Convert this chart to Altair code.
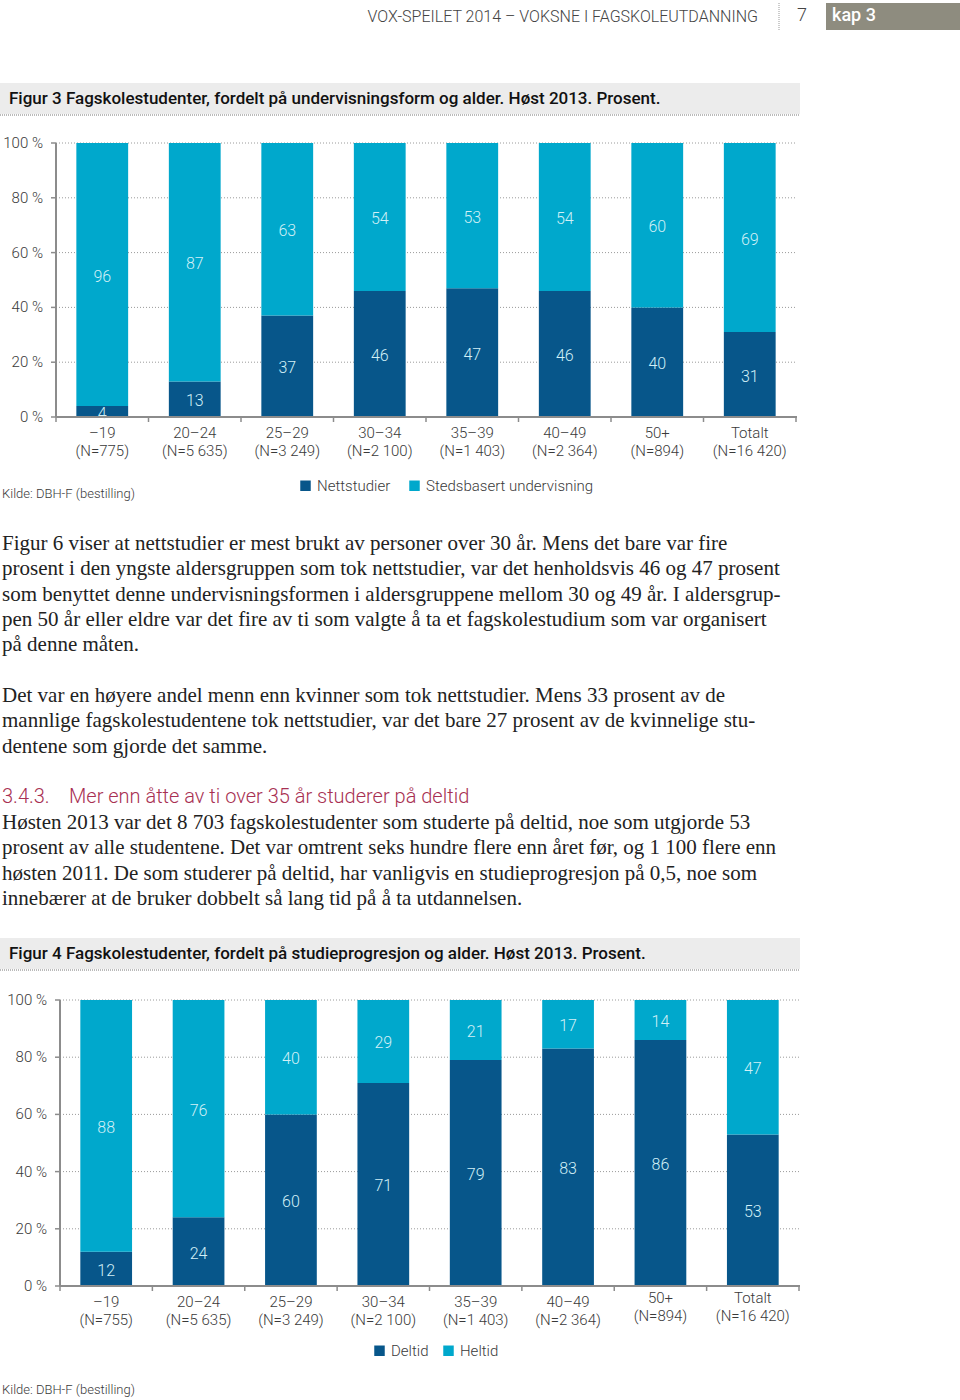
import altair as alt
import pandas as pd

# ---------------- data ----------------
ages = ["–19", "20–24", "25–29", "30–34", "35–39", "40–49", "50+", "Totalt"]
n_fig3 = ["(N=775)", "(N=5 635)", "(N=3 249)", "(N=2 100)", "(N=1 403)", "(N=2 364)", "(N=894)", "(N=16 420)"]
n_fig4 = ["(N=755)", "(N=5 635)", "(N=3 249)", "(N=2 100)", "(N=1 403)", "(N=2 364)", "(N=894)", "(N=16 420)"]

series3 = ["Nettstudier", "Stedsbasert undervisning"]
nettstudier = [4, 13, 37, 46, 47, 46, 40, 31]
stedsbasert = [96, 87, 63, 54, 53, 54, 60, 69]

series4 = ["Deltid", "Heltid"]
deltid = [12, 24, 60, 71, 79, 83, 86, 53]
heltid = [88, 76, 40, 29, 21, 17, 14, 47]

y_ticks = [0, 20, 40, 60, 80, 100]
y_tick_labels = ["0 %", "20 %", "40 %", "60 %", "80 %", "100 %"]

header_text = "VOX-SPEILET 2014 – VOKSNE I FAGSKOLEUTDANNING"
page_no = "7"
chapter = "kap 3"
title3 = "Figur 3 Fagskolestudenter, fordelt på undervisningsform og alder. Høst 2013. Prosent."
title4 = "Figur 4 Fagskolestudenter, fordelt på studieprogresjon og alder. Høst 2013. Prosent."
source = "Kilde: DBH-F (bestilling)"
para1 = [
    "Figur 6 viser at nettstudier er mest brukt av personer over 30 år. Mens det bare var fire",
    "prosent i den yngste aldersgruppen som tok nettstudier, var det henholdsvis 46 og 47 prosent",
    "som benyttet denne undervisningsformen i aldersgruppene mellom 30 og 49 år. I aldersgrup-",
    "pen 50 år eller eldre var det fire av ti som valgte å ta et fagskolestudium som var organisert",
    "på denne måten.",
]
para2 = [
    "Det var en høyere andel menn enn kvinner som tok nettstudier. Mens 33 prosent av de",
    "mannlige fagskolestudentene tok nettstudier, var det bare 27 prosent av de kvinnelige stu-",
    "dentene som gjorde det samme.",
]
heading_no = "3.4.3."
heading = "Mer enn åtte av ti over 35 år studerer på deltid"
para3 = [
    "Høsten 2013 var det 8 703 fagskolestudenter som studerte på deltid, noe som utgjorde 53",
    "prosent av alle studentene. Det var omtrent seks hundre flere enn året før, og 1 100 flere enn",
    "høsten 2011. De som studerer på deltid, har vanligvis en studieprogresjon på 0,5, noe som",
    "innebærer at de bruker dobbelt så lang tid på å ta utdannelsen.",
]

# ---------------- style ----------------
SANS = "Roboto"
SERIF = "Liberation Serif"
DARK = "#07568a"
LIGHT = "#00a8cc"
LABEL_IN = "#d2f0f7"
AXIS_C = "#8c8c8c"
TXT = "#3a3a3a"


def stacked_df(a, b, names):
    rows = []
    for i, age in enumerate(ages):
        rows.append({"cat": age, "series": names[0], "value": a[i], "ord": 0})
        rows.append({"cat": age, "series": names[1], "value": b[i], "ord": 1})
    return pd.DataFrame(rows)


one = pd.DataFrame({"k": [0]})
ticks_df = pd.DataFrame({"t": y_ticks, "lab": y_tick_labels})
edges_df = pd.DataFrame({"i": list(range(len(ages) + 1))})


def figure(a, b, names, nlabels, y0, y100, x0, x1, xlab_top, legend_x, legend_y, col_pad, raised=()):
    df = stacked_df(a, b, names)
    lab_df = pd.DataFrame({"cat": ages, "lab": [f"{g}|{n}" for g, n in zip(ages, nlabels)]})
    xs = alt.Scale(domain=ages, range=[x0, x1], paddingInner=0.44, paddingOuter=0.22)
    ys = alt.Scale(domain=[0, 100], range=[y0, y100])
    es = alt.Scale(domain=[0, len(ages)], range=[x0, x1])

    grid = alt.Chart(ticks_df).transform_filter("datum.t > 0").mark_rule(
        color="#9a9a9a", strokeDash=[1, 2], strokeWidth=1
    ).encode(y=alt.Y("t:Q", scale=ys, axis=None), x=alt.value(x0), x2=alt.value(x1 + 1))

    bars = alt.Chart(df).mark_bar().encode(
        x=alt.X("cat:N", scale=xs, axis=None),
        y=alt.Y("value:Q", stack="zero", scale=ys, axis=None),
        color=alt.Color(
            "series:N",
            scale=alt.Scale(domain=names, range=[DARK, LIGHT]),
            legend=alt.Legend(
                orient="none", legendX=legend_x, legendY=legend_y, direction="horizontal",
                title=None, symbolType="square", symbolSize=110, symbolStrokeWidth=0,
                labelFont=SANS, labelFontSize=15, labelFontWeight=300, labelColor=TXT,
                labelOffset=4, columnPadding=col_pad, padding=0, labelLimit=400,
            ),
        ),
        order=alt.Order("ord:Q"),
    )

    labels = alt.Chart(df).transform_stack(
        stack="value", groupby=["cat"], as_=["v0", "v1"], sort=[alt.SortField("ord")]
    ).transform_calculate(mid="(datum.v0 + datum.v1) / 2").mark_text(
        font=SANS, fontSize=16, fontWeight=300, color=LABEL_IN, baseline="middle", dy=2
    ).encode(
        x=alt.X("cat:N", scale=xs, axis=None),
        y=alt.Y("mid:Q", scale=ys, axis=None),
        text="value:Q",
    )

    yline = alt.Chart(one).mark_rule(color=AXIS_C, strokeWidth=2).encode(
        x=alt.value(x0), y=alt.Y(datum=0, scale=ys, axis=None), y2=alt.Y2(datum=100)
    )
    yticks = alt.Chart(ticks_df).mark_rule(color=AXIS_C, strokeWidth=1.5).encode(
        y=alt.Y("t:Q", scale=ys, axis=None), x=alt.value(x0 - 5), x2=alt.value(x0)
    )
    ylabels = alt.Chart(ticks_df).mark_text(
        font=SANS, fontSize=15, fontWeight=300, color=TXT, align="right", baseline="middle"
    ).encode(y=alt.Y("t:Q", scale=ys, axis=None), x=alt.value(x0 - 13), text="lab:N")

    xline = alt.Chart(one).mark_rule(color=AXIS_C, strokeWidth=2).encode(
        y=alt.Y(datum=0, scale=ys, axis=None), x=alt.value(x0), x2=alt.value(x1 + 1)
    )
    xticks = alt.Chart(edges_df).mark_rule(color=AXIS_C, strokeWidth=1.5).encode(
        x=alt.X("i:Q", scale=es, axis=None), y=alt.Y(datum=0, scale=ys, axis=None), y2=alt.value(y0 + 5)
    )
    raised_list = list(raised)
    xl_kw = dict(font=SANS, fontSize=15, fontWeight=300, color=TXT, align="center", baseline="top",
                 lineBreak="|", lineHeight=18)
    xlabels = alt.Chart(lab_df).transform_filter(
        alt.FieldOneOfPredicate(field="cat", oneOf=[c for c in ages if c not in raised_list])
    ).mark_text(**xl_kw).encode(x=alt.X("cat:N", scale=xs, axis=None), y=alt.value(xlab_top), text="lab:N")
    out = [grid, bars, labels, yline, yticks, ylabels, xline, xticks, xlabels]
    if raised_list:
        xlabels_r = alt.Chart(lab_df).transform_filter(
            alt.FieldOneOfPredicate(field="cat", oneOf=raised_list)
        ).mark_text(**xl_kw).encode(x=alt.X("cat:N", scale=xs, axis=None), y=alt.value(xlab_top - 4), text="lab:N")
        out.append(xlabels_r)
    return out


def title_box(text, top):
    box = alt.Chart(one).mark_rect(color="#ececec").encode(
        x=alt.value(0), x2=alt.value(800), y=alt.value(top), y2=alt.value(top + 31)
    )
    dots = alt.Chart(one).mark_rule(color="#777", strokeDash=[1, 1]).encode(
        x=alt.value(0), x2=alt.value(800), y=alt.value(top + 32)
    )
    txt = alt.Chart(one).mark_text(
        font=SANS, fontSize=17, fontWeight=500, color="#111", align="left", baseline="middle"
    ).encode(x=alt.value(9), y=alt.value(top + 16), text=alt.value(text))
    return [box, dots, txt]


def static_text(text, x, y, size, color, font=SANS, weight=300, align="left", baseline="alphabetic", lh=None):
    kw = dict(font=font, fontSize=size, fontWeight=weight, color=color, align=align, baseline=baseline)
    if lh is not None:
        kw.update(lineBreak="\n", lineHeight=lh)
    return alt.Chart(one).mark_text(**kw).encode(x=alt.value(x), y=alt.value(y), text=alt.value(text))


layers = []
# header
layers.append(static_text(header_text, 758, 17, 16, "#444", align="right", baseline="middle"))
layers.append(alt.Chart(one).mark_rule(color="#999", strokeDash=[1, 1]).encode(
    x=alt.value(779), y=alt.value(3), y2=alt.value(30)))
layers.append(static_text(page_no, 802, 16, 18, "#444", align="center", baseline="middle"))
layers.append(alt.Chart(one).mark_rect(color="#8e8c7f").encode(
    x=alt.value(826), x2=alt.value(960), y=alt.value(3), y2=alt.value(30)))
layers.append(static_text(chapter, 832, 16, 18, "white", weight=500, baseline="middle"))

# figure 3
layers += title_box(title3, 83)
layers += figure(nettstudier, stedsbasert, series3, n_fig3, 417, 143, 56, 796, 426, 298, 478, 16)
layers.append(static_text(source, 2, 494, 13, TXT, baseline="middle"))

# body text
BODY = 21
layers.append(static_text("\n".join(para1), 2, 550, BODY, "#222", font=SERIF, weight=400, lh=25.3))
layers.append(static_text("\n".join(para2), 2, 702, BODY, "#222", font=SERIF, weight=400, lh=25.3))
layers.append(static_text(heading_no, 2, 803, 20, "#a83052"))
layers.append(static_text(heading, 69, 803, 20, "#a83052"))
layers.append(static_text("\n".join(para3), 2, 829, BODY, "#222", font=SERIF, weight=400, lh=25.3))

# figure 4
layers += title_box(title4, 938)
layers += figure(deltid, heltid, series4, n_fig4, 1286, 1000, 60, 799, 1295, 372, 1343, 12,
                 raised=("50+", "Totalt"))
layers.append(static_text(source, 2, 1390, 13, TXT, baseline="middle"))

chart = alt.layer(*layers).properties(
    width=960, height=1400, autosize=alt.AutoSizeParams(type="none"), padding=0,
    background="white",
).resolve_scale(
    x="independent", y="independent", color="independent"
).resolve_legend(color="independent").configure_view(stroke=None)

chart.save("out.html", embed_options={"renderer": "svg", "actions": False})
